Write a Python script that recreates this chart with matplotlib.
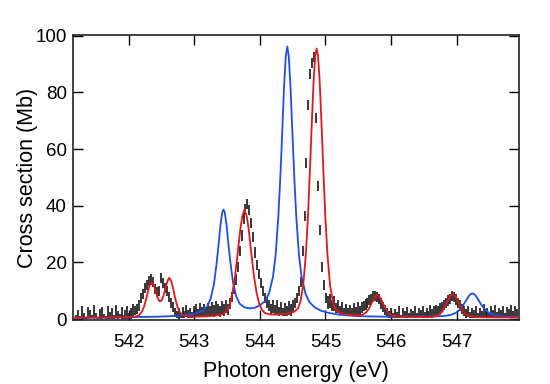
import numpy as np
import matplotlib
matplotlib.use("Agg")
import matplotlib.pyplot as plt

plt.rcParams['font.family'] = ['Liberation Sans', 'DejaVu Sans']

# measured spectrum: energy grid start/step and cross section values (Mb)
e_start = 541.20
e_step = 0.03
measured = [
    0.8, 1.5, 0.6, 2.4, 1.1, 0.4, 2.2, 1.8, 0.9, 2.6,
    1.3, 0.5, 1.9, 2.3, 1.0, 0.7, 2.5, 1.4, 2.0, 0.8,
    2.7, 1.6, 1.1, 2.2, 0.9, 1.8, 2.4, 1.2, 2.0, 2.8,
    3.2, 3.6, 4.8, 7.5, 9.0, 11.0, 12.0, 13.5, 14.0, 13.0,
    10.5, 9.6, 9.8, 14.5, 12.8, 11.0, 10.0, 7.8, 5.8, 4.2,
    2.4, 1.5, 2.0, 1.2, 2.4, 1.6, 2.8, 1.9, 2.2, 1.4,
    2.6, 3.0, 2.1, 3.3, 2.5, 3.1, 2.4, 3.4, 2.6, 3.6,
    2.9, 3.8, 3.1, 2.7, 3.9, 3.2, 4.5, 3.5, 5.5, 7.8,
    10.5, 14.0, 18.5, 24.0, 29.5, 35.5, 39.0, 40.5, 38.5, 34.0,
    29.0, 23.5, 19.0, 15.8, 12.8, 10.0, 7.5, 5.8, 4.8, 3.6,
    4.4, 3.2, 4.0, 2.8, 3.6, 2.6, 3.4, 2.9, 3.8, 3.2,
    4.5, 5.8, 7.5, 10.0, 13.0, 24.0, 36.5, 55.0, 75.5, 86.5,
    90.5, 92.5, 71.0, 47.0, 31.5, 18.5, 12.0, 7.5, 5.8, 6.5,
    4.8, 5.4, 3.9, 4.5, 3.2, 3.8, 2.7, 3.4, 2.5, 3.1,
    2.6, 3.4, 2.8, 3.6, 3.0, 4.0, 4.6, 5.2, 5.8, 6.8,
    7.2, 8.0, 8.3, 7.9, 7.0, 5.5, 4.2, 3.2, 2.4, 1.6,
    2.3, 1.2, 2.0, 1.5, 2.5, 1.0, 2.1, 1.6, 2.4, 1.3,
    2.0, 1.7, 2.6, 1.4, 2.2, 1.8, 2.5, 1.5, 2.3, 1.7,
    2.8, 2.0, 2.6, 3.2, 3.0, 3.8, 4.4, 5.0, 5.6, 6.6,
    7.2, 8.3, 7.8, 6.9, 5.6, 4.8, 3.6, 2.8, 2.0, 2.6,
    1.5, 2.2, 1.8, 2.6, 1.4, 2.3, 1.7, 2.9, 1.6, 2.2,
    1.3, 2.5, 1.9, 2.7, 1.5, 2.3, 1.8, 2.6, 1.4, 2.4,
    2.0, 2.8, 1.6, 2.5, 2.1,
]
measured_err = [
    0.5, 1.8, 0.4, 2.2, 0.9, 0.3, 2.0, 1.5, 0.6, 2.3,
    1.0, 0.4, 1.7, 2.1, 0.7, 0.5, 2.3, 1.2, 1.8, 0.6,
    2.4, 1.4, 0.8, 2.0, 0.7, 1.6, 2.2, 1.0, 1.8, 2.5,
    1.6, 1.7, 1.8, 1.8, 1.8, 1.8, 1.8, 1.8, 1.8, 1.8,
    1.8, 1.8, 1.8, 1.8, 1.8, 1.8, 1.8, 1.8, 1.8, 1.8,
    1.5, 1.2, 1.8, 0.8, 2.0, 1.1, 2.2, 1.5, 1.8, 1.0,
    2.0, 2.2, 1.5, 2.4, 1.8, 2.1, 1.6, 2.3, 1.9, 2.4,
    2.0, 2.5, 2.1, 1.8, 2.6, 2.0, 2.4, 2.0, 1.8, 1.8,
    1.8, 1.8, 1.8, 1.8, 1.8, 1.8, 1.8, 1.8, 1.8, 1.8,
    1.8, 1.8, 1.8, 1.8, 1.8, 1.8, 1.8, 1.8, 1.8, 1.8,
    2.4, 1.8, 2.6, 1.6, 2.3, 1.5, 2.2, 1.7, 2.5, 2.0,
    2.2, 1.8, 1.8, 1.8, 1.8, 1.8, 1.8, 1.8, 1.8, 1.8,
    1.8, 1.8, 1.8, 1.8, 1.8, 1.8, 1.8, 1.8, 2.2, 2.4,
    2.0, 2.6, 1.8, 2.4, 1.6, 2.2, 1.4, 2.1, 1.3, 1.9,
    1.5, 2.2, 1.6, 2.3, 1.8, 2.0, 1.8, 1.8, 1.8, 1.8,
    1.8, 1.8, 1.8, 1.8, 1.8, 1.8, 1.8, 1.8, 1.6, 1.2,
    1.8, 0.8, 1.5, 1.0, 2.0, 0.6, 1.7, 1.1, 1.9, 0.9,
    1.6, 1.2, 2.1, 0.9, 1.7, 1.3, 2.0, 1.0, 1.8, 1.2,
    2.2, 1.5, 2.0, 1.8, 1.8, 1.8, 1.8, 1.8, 1.8, 1.8,
    1.8, 1.8, 1.8, 1.8, 1.8, 1.8, 1.8, 1.8, 1.5, 2.0,
    1.0, 1.7, 1.3, 2.1, 0.9, 1.8, 1.2, 2.3, 1.1, 1.7,
    0.8, 2.0, 1.4, 2.2, 1.0, 1.8, 1.3, 2.1, 0.9, 1.9,
    1.5, 2.3, 1.1, 2.0, 1.6,
]

# calculation 1 (blue)
blue_e = [541.15, 541.5, 541.8, 542.1, 542.4, 542.6, 542.8, 542.95, 543.05, 543.13,
          543.2, 543.25, 543.3, 543.34, 543.37, 543.4, 543.425, 543.445, 543.465, 543.49,
          543.52, 543.55, 543.59, 543.64, 543.69, 543.76, 543.84, 543.92, 544.0, 544.08,
          544.14, 544.2, 544.24, 544.28, 544.31, 544.34, 544.37, 544.395, 544.418, 544.44,
          544.465, 544.495, 544.525, 544.555, 544.595, 544.635, 544.695, 544.755, 544.84, 544.94,
          545.05, 545.2, 545.4, 545.6, 545.8, 546.0, 546.2, 546.4, 546.55, 546.7,
          546.8, 546.9, 546.98, 547.04, 547.09, 547.14, 547.18, 547.21, 547.24, 547.27,
          547.3, 547.34, 547.39, 547.44, 547.5, 547.58, 547.68, 547.8, 547.95]
blue_cs = [0.5, 0.55, 0.6, 0.75, 0.85, 1.0, 1.3, 1.7, 2.2, 3.0,
           4.6, 7.3, 12.5, 19.7, 26.4, 33.4, 37.6, 38.7, 37.6, 33.5,
           26.5, 20.0, 13.0, 8.0, 5.5, 4.2, 3.8, 4.0, 4.9, 6.4,
           9.2, 15.0, 22.7, 35.9, 49.5, 65.7, 82.9, 93.0, 96.2, 92.8,
           82.7, 66.0, 49.7, 35.9, 22.7, 15.0, 9.0, 6.0, 4.1, 2.9,
           2.2, 1.6, 1.2, 1.0, 0.9, 0.85, 0.85, 0.85, 0.9, 1.0,
           1.1, 1.45, 2.1, 3.2, 4.6, 6.4, 8.0, 8.8, 9.1, 8.8,
           8.0, 6.4, 4.6, 3.2, 2.1, 1.4, 1.05, 0.85, 0.75]

# calculation 2 (red)
red_e = [541.15, 541.5, 541.8, 542.0, 542.1, 542.15, 542.2, 542.23, 542.26, 542.29,
         542.32, 542.35, 542.38, 542.41, 542.44, 542.47, 542.5, 542.53, 542.56, 542.59,
         542.62, 542.65, 542.68, 542.71, 542.74, 542.77, 542.8, 542.85, 542.9, 543.0,
         543.1, 543.2, 543.3, 543.4, 543.45, 543.5, 543.54, 543.58, 543.62, 543.66,
         543.7, 543.73, 543.765, 543.8, 543.83, 543.87, 543.91, 543.95, 543.99, 544.03,
         544.08, 544.15, 544.25, 544.35, 544.45, 544.52, 544.58, 544.62, 544.66, 544.7,
         544.73, 544.76, 544.79, 544.82, 544.845, 544.865, 544.885, 544.91, 544.94, 544.97,
         545.0, 545.03, 545.07, 545.11, 545.15, 545.21, 545.3, 545.4, 545.5, 545.56,
         545.62, 545.66, 545.7, 545.74, 545.79, 545.84, 545.88, 545.92, 545.96, 546.02,
         546.1, 546.2, 546.3, 546.4, 546.5, 546.6, 546.68, 546.74, 546.78, 546.82,
         546.86, 546.9, 546.94, 546.98, 547.02, 547.06, 547.1, 547.14, 547.2, 547.28,
         547.4, 547.6, 547.95]
red_cs = [0.5, 0.55, 0.6, 0.7, 0.9, 1.25, 2.6, 4.2, 6.6, 9.5,
          12.0, 13.1, 12.1, 9.9, 7.6, 6.3, 6.5, 8.2, 10.9, 13.4,
          14.6, 13.3, 10.5, 7.2, 4.6, 2.8, 1.9, 1.2, 1.0, 0.9,
          0.9, 1.0, 1.2, 1.5, 1.9, 3.2, 5.2, 9.1, 14.9, 23.1,
          31.5, 36.2, 38.7, 36.2, 31.5, 23.1, 15.0, 9.2, 5.4, 3.3,
          2.1, 1.7, 1.6, 1.7, 2.0, 2.6, 3.7, 6.4, 11.9, 22.7,
          34.9, 51.0, 68.5, 84.7, 93.2, 95.5, 93.2, 84.7, 68.5, 51.0,
          34.9, 22.7, 11.9, 6.4, 3.6, 2.4, 1.7, 1.4, 1.3, 1.5,
          2.4, 3.6, 5.5, 7.4, 8.7, 7.4, 5.4, 3.5, 2.2, 1.2,
          0.9, 0.8, 0.75, 0.75, 0.75, 0.8, 1.0, 1.7, 2.7, 4.3,
          6.3, 8.1, 8.9, 8.1, 6.3, 4.3, 2.7, 1.7, 1.0, 0.75,
          0.65, 0.6, 0.55]

xticks = [542, 543, 544, 545, 546, 547]
yticks = [0, 20, 40, 60, 80, 100]

energy = e_start + e_step * np.arange(len(measured))

fig = plt.figure(figsize=(5.5, 3.84), dpi=100)
ax = fig.add_axes([0.1327, 0.1667, 0.8109, 0.7422])

ax.errorbar(energy, measured, yerr=measured_err, fmt='none',
            ecolor='#151515', elinewidth=1.2, capsize=0, zorder=2)
ax.plot(blue_e, blue_cs, color='#1c4fe3', lw=1.3, zorder=3)
ax.plot(red_e, red_cs, color='#e0181d', lw=1.3, zorder=4)

ax.set_xlim(541.15, 547.95)
ax.set_ylim(-0.3, 100.3)
ax.set_xticks(xticks)
ax.set_yticks(yticks)
ax.tick_params(direction='in', length=7, width=1.0, top=True, right=True,
               labelsize=13.5, colors='black')
ax.tick_params(axis='x', pad=10)
ax.tick_params(axis='y', pad=4.5)
for s in ax.spines.values():
    s.set_linewidth(1.2)
    s.set_color('#222222')

ax.set_xlabel('Photon energy (eV)', fontsize=15.5, labelpad=7)
ax.set_ylabel('Cross section (Mb)', fontsize=15.5, labelpad=-2)

fig.savefig('out.png', dpi=100)
